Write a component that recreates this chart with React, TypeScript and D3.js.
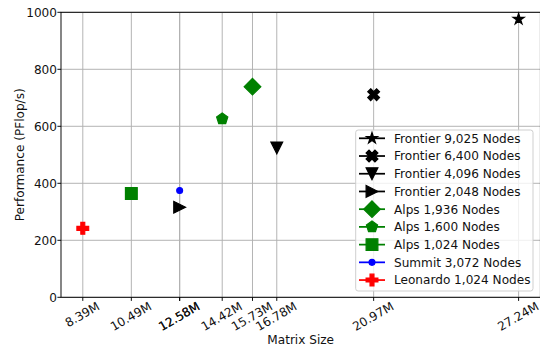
import React, { useEffect, useRef } from "react";
import * as d3 from "d3";

// series, in legend order
const seriesNames = [
  "Frontier 9,025 Nodes",
  "Frontier 6,400 Nodes",
  "Frontier 4,096 Nodes",
  "Frontier 2,048 Nodes",
  "Alps 1,936 Nodes",
  "Alps 1,600 Nodes",
  "Alps 1,024 Nodes",
  "Summit 3,072 Nodes",
  "Leonardo 1,024 Nodes",
];
const seriesColors = ["black", "black", "black", "black", "green", "green", "green", "blue", "red"];
const seriesMarkers = ["star", "xFilled", "triDown", "triRight", "diamond", "pentagon", "square", "point", "plusFilled"];
// matrix size in millions
const matrixSizes = [27.24, 20.97, 16.78, 12.58, 15.73, 14.42, 10.49, 12.58, 8.39];
// PFlop/s
const performance = [976, 711, 524, 316, 739, 626, 364, 375, 242];
const yTicks = [0, 200, 400, 600, 800, 1000];

const W = 540;
const H = 349;
const FONT = "DejaVu Sans, sans-serif";
const FS = 12.1;
const MS = 11.8;

const poly = (pts: number[][]) => "M" + pts.map((p) => `${p[0]},${p[1]}`).join("L") + "Z";

const markerPath = (type: string, ms: number) => {
  const h = ms / 2;
  switch (type) {
    case "star": {
      const pts = d3.range(10).map((i) => {
        const r = i % 2 ? h * 0.381966 : h;
        const a = ((-90 + i * 36) * Math.PI) / 180;
        return [r * Math.cos(a), r * Math.sin(a)];
      });
      return poly(pts);
    }
    case "pentagon": {
      const pts = d3.range(5).map((i) => {
        const a = ((-90 + i * 72) * Math.PI) / 180;
        return [h * Math.cos(a), h * Math.sin(a)];
      });
      return poly(pts);
    }
    case "triDown":
      return poly([[0, h], [-h, -h], [h, -h]]);
    case "triRight":
      return poly([[h, 0], [-h, -h], [-h, h]]);
    case "diamond": {
      const d = ms * Math.SQRT1_2;
      return poly([[0, -d], [d, 0], [0, d], [-d, 0]]);
    }
    case "square":
      return poly([[-h, -h], [h, -h], [h, h], [-h, h]]);
    case "point": {
      const r = ms / 4;
      return `M${-r},0A${r},${r} 0 1,0 ${r},0A${r},${r} 0 1,0 ${-r},0Z`;
    }
    case "plusFilled": {
      const p = [[-1, -3], [1, -3], [1, -1], [3, -1], [3, 1], [1, 1], [1, 3], [-1, 3], [-1, 1], [-3, 1], [-3, -1], [-1, -1]];
      return poly(p.map(([x, y]) => [(x / 6) * ms, (y / 6) * ms]));
    }
    case "xFilled": {
      const p = [[-1, -2], [0, -1], [1, -2], [2, -1], [1, 0], [2, 1], [1, 2], [0, 1], [-1, 2], [-2, 1], [-1, 0], [-2, -1]];
      return poly(p.map(([x, y]) => [(x / 4) * ms, (y / 4) * ms]));
    }
  }
  return "";
};

const App = () => {
  const ref = useRef<SVGSVGElement>(null);

  useEffect(() => {
    const svg = d3.select(ref.current);
    svg.selectAll("*").remove();

    const left = 61;
    const right = 540.4;
    const top = 12.3;
    const bottom = 297.3;

    const [xmin, xmax] = d3.extent(matrixSizes) as [number, number];
    const pad = (xmax - xmin) * 0.05;
    const x = d3.scaleLinear().domain([xmin - pad, xmax + pad]).range([left, right]);
    const y = d3.scaleLinear().domain([0, 1000]).range([bottom, top]);

    const xTicks = [...matrixSizes].sort((a, b) => a - b);

    // grid
    const grid = svg.append("g").attr("stroke", "#b0b0b0").attr("stroke-width", 0.95);
    xTicks.forEach((v) => {
      grid.append("line").attr("x1", x(v)).attr("x2", x(v)).attr("y1", top).attr("y2", bottom);
    });
    yTicks.forEach((v) => {
      grid.append("line").attr("x1", left).attr("x2", right).attr("y1", y(v)).attr("y2", y(v));
    });

    // markers
    matrixSizes.forEach((v, i) => {
      svg
        .append("path")
        .attr("d", markerPath(seriesMarkers[i], MS))
        .attr("transform", `translate(${x(v)},${y(performance[i])})`)
        .attr("fill", seriesColors[i])
        .attr("stroke", seriesColors[i])
        .attr("stroke-width", 1.18)
        .attr("stroke-linejoin", "miter");
    });

    // spines
    svg
      .append("rect")
      .attr("x", left)
      .attr("y", top)
      .attr("width", right - left)
      .attr("height", bottom - top)
      .attr("fill", "none")
      .attr("stroke", "black")
      .attr("stroke-width", 0.95);

    // y axis
    yTicks.forEach((v) => {
      svg.append("line").attr("x1", left - 3.6).attr("x2", left).attr("y1", y(v)).attr("y2", y(v)).attr("stroke", "black").attr("stroke-width", 0.95);
      svg
        .append("text")
        .attr("x", left - 4)
        .attr("y", y(v))
        .attr("dy", "0.36em")
        .attr("text-anchor", "end")
        .attr("font-family", FONT)
        .attr("font-size", FS)
        .attr("fill", "#111")
        .text(v);
    });

    // x axis
    const sin = Math.sin(Math.PI / 6);
    const cos = Math.cos(Math.PI / 6);
    xTicks.forEach((v) => {
      svg.append("line").attr("x1", x(v)).attr("x2", x(v)).attr("y1", bottom).attr("y2", bottom + 3.6).attr("stroke", "black").attr("stroke-width", 0.95);
      const g = svg.append("g");
      const t = g
        .append("text")
        .attr("text-anchor", "middle")
        .attr("dy", "0.26em")
        .attr("font-family", FONT)
        .attr("font-size", FS)
        .attr("fill", "#111")
        .text(`${v.toFixed(2)}M`);
      const w = (t.node() as SVGTextElement).getComputedTextLength();
      const bh = w * sin + FS * cos;
      g.attr("transform", `translate(${x(v)},${300.8 + bh / 2}) rotate(-30)`);
    });

    svg
      .append("text")
      .attr("x", (left + right) / 2)
      .attr("y", 344)
      .attr("text-anchor", "middle")
      .attr("font-family", FONT)
      .attr("font-size", FS)
      .attr("fill", "#111")
      .text("Matrix Size");

    svg
      .append("text")
      .attr("transform", `translate(24,${(top + bottom) / 2}) rotate(-90)`)
      .attr("text-anchor", "middle")
      .attr("font-family", FONT)
      .attr("font-size", FS)
      .attr("fill", "#111")
      .text("Performance (PFlop/s)");

    // legend
    const lg = svg.append("g");
    lg.append("rect")
      .attr("x", 355.7)
      .attr("y", 130)
      .attr("width", 177.3)
      .attr("height", 161)
      .attr("rx", 2.5)
      .attr("fill", "white")
      .attr("fill-opacity", 0.8)
      .attr("stroke", "#cccccc")
      .attr("stroke-width", 0.95);
    seriesNames.forEach((name, i) => {
      const ry = 138.3 + i * 17.72;
      lg.append("line").attr("x1", 359).attr("x2", 385).attr("y1", ry).attr("y2", ry).attr("stroke", seriesColors[i]).attr("stroke-width", 1.75);
      lg.append("path")
        .attr("d", markerPath(seriesMarkers[i], MS))
        .attr("transform", `translate(372,${ry})`)
        .attr("fill", seriesColors[i])
        .attr("stroke", seriesColors[i])
        .attr("stroke-width", 1.18);
      lg.append("text")
        .attr("x", 394)
        .attr("y", ry)
        .attr("dy", "0.36em")
        .attr("font-family", FONT)
        .attr("font-size", FS)
        .attr("fill", "#111")
        .text(name);
    });
  }, []);

  return (
    <svg
      ref={ref}
      width={W}
      height={H}
      style={{ position: "absolute", left: 0, top: 0, background: "white" }}
    />
  );
};

export default App;
